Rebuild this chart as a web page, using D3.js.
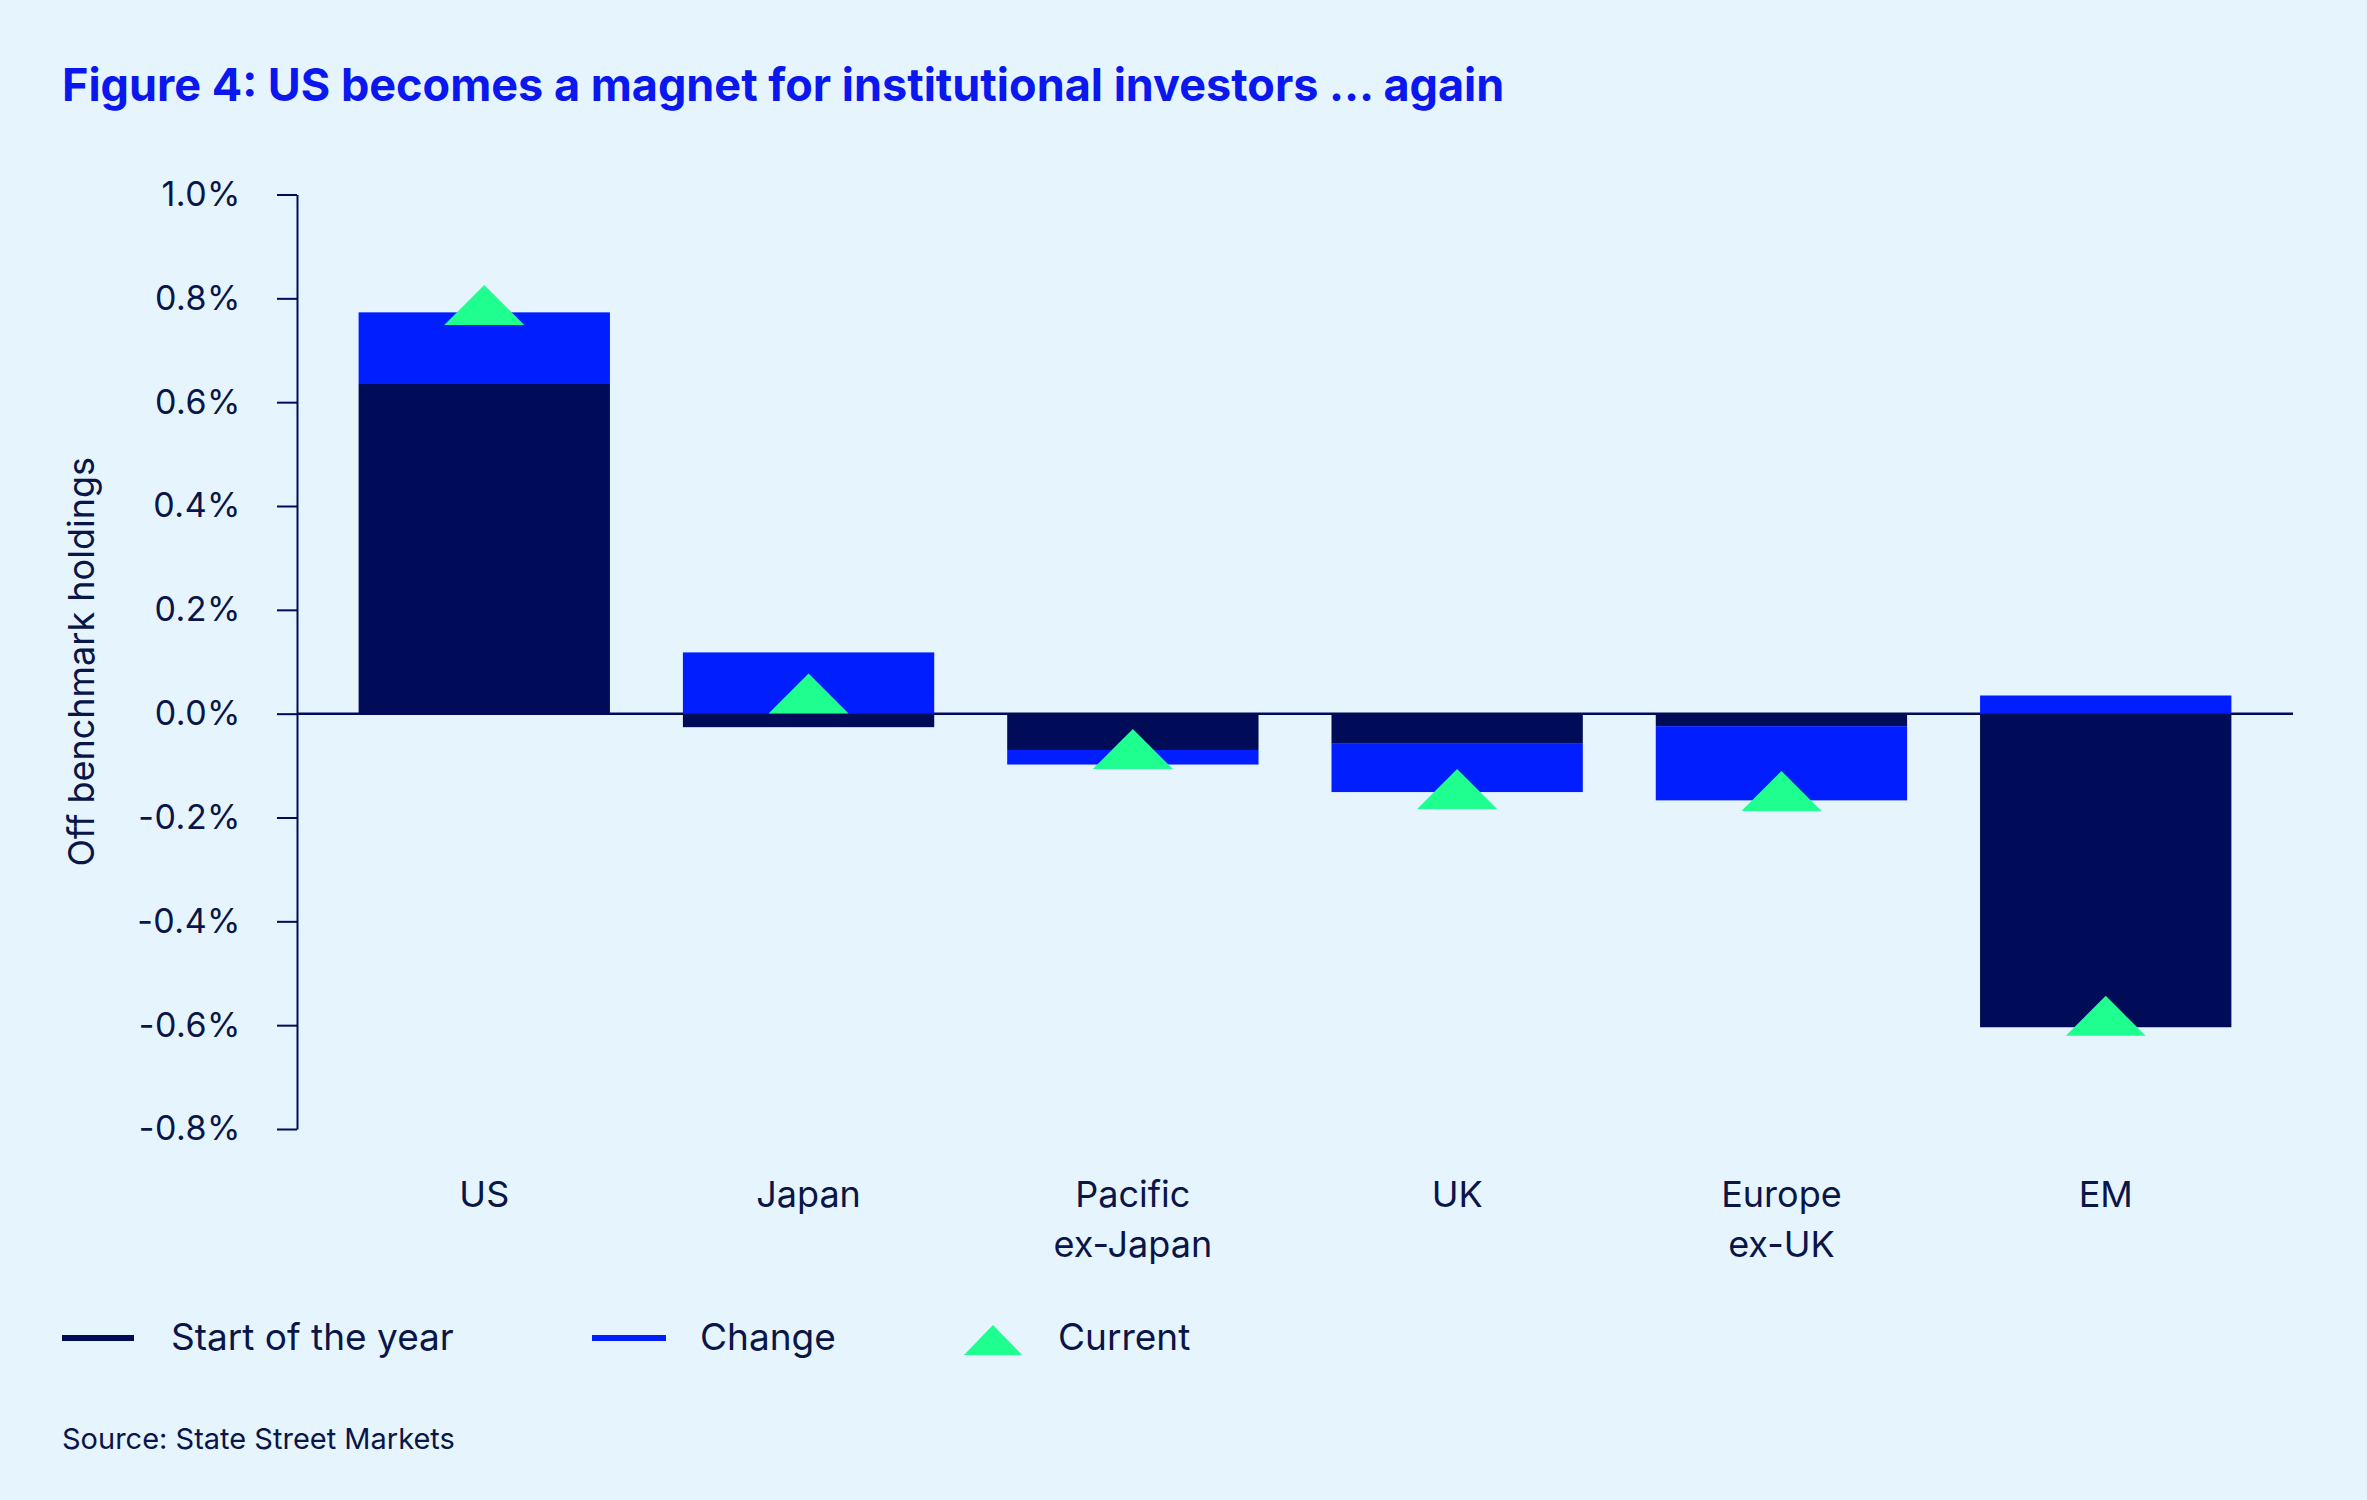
<!DOCTYPE html>
<html>
<head>
<meta charset="utf-8">
<script src="https://cdn.jsdelivr.net/npm/d3@7"></script>
<style>
  body { margin: 0; background: #e6f4fd; }
  svg { display: block; font-family: Inter, "Noto Sans", sans-serif; }
</style>
</head>
<body>
<script>
// chart data
var categories = ["US", "Japan", "Pacific\nex-Japan", "UK", "Europe\nex-UK", "EM"];
var startOfYear = [0.635, -0.026, -0.070, -0.058, -0.024, -0.604];
var change = [0.138, 0.118, -0.028, -0.093, -0.143, 0.035];
var current = [0.787, 0.039, -0.068, -0.145, -0.149, -0.582];
var yTicks = [1.0, 0.8, 0.6, 0.4, 0.2, 0.0, -0.2, -0.4, -0.6, -0.8];

var navy = "#000c57", blue = "#001eff", green = "#1fff8f", textCol = "#0a1548";

var svg = d3.select("body").append("svg")
    .attr("width", 2367)
    .attr("height", 1500);

svg.append("rect").attr("width", 2367).attr("height", 1500).attr("fill", "#e6f4fd");

var x = d3.scaleBand()
    .domain(categories)
    .range([297, 2293])
    .paddingInner(0.225)
    .paddingOuter(0.19);

var y = d3.scaleLinear()
    .domain([-0.8, 1.0])
    .range([1129, 194.5]);

// title
svg.append("text")
    .attr("x", 62)
    .attr("y", 101)
    .attr("fill", "#0a17ee")
    .style("font-size", "45px")
    .style("font-weight", 700)
    .text("Figure 4: US becomes a magnet for institutional investors \u2026 again");

// y axis
var yAxis = svg.append("g")
    .attr("transform", "translate(297,0)")
    .call(d3.axisLeft(y)
        .tickValues(yTicks)
        .tickSize(20)
        .tickSizeOuter(0)
        .tickPadding(36)
        .tickFormat(function(d) { return d.toFixed(1) + "%"; }));
yAxis.select(".domain").attr("stroke", navy).attr("stroke-width", 2);
yAxis.selectAll(".tick line").attr("stroke", navy).attr("stroke-width", 2);
yAxis.selectAll(".tick text")
    .attr("fill", textCol)
    .style("font-size", "34px")
    .style("letter-spacing", "0.5px")
    .style("font-family", "Inter, sans-serif");

svg.append("text")
    .attr("transform", "translate(94," + ((y(1.0) + y(-0.8)) / 2) + ") rotate(-90)")
    .attr("text-anchor", "middle")
    .attr("fill", textCol)
    .style("font-size", "36px")
    .text("Off benchmark holdings");

// stacked bars (positives and negatives stacked apart)
var table = categories.map(function(c, i) {
  return {cat: c, start: startOfYear[i], change: change[i], current: current[i]};
});
var series = d3.stack()
    .keys(["start", "change"])
    .offset(d3.stackOffsetDiverging)(table);
var colors = {start: navy, change: blue};

// zero line
svg.append("line")
    .attr("x1", 297).attr("x2", 2293)
    .attr("y1", y(0)).attr("y2", y(0))
    .attr("stroke", navy)
    .attr("stroke-width", 2.5);

svg.selectAll(".layer")
  .data(series)
  .enter().append("g")
    .attr("class", "layer")
    .attr("fill", function(s) { return colors[s.key]; })
  .selectAll("rect")
  .data(function(s) { return s; })
  .enter().append("rect")
    .attr("x", function(d) { return x(d.data.cat); })
    .attr("width", x.bandwidth())
    .attr("y", function(d) { return y(Math.max(d[0], d[1])); })
    .attr("height", function(d) { return Math.abs(y(d[0]) - y(d[1])); });

// current markers
var triW = 80, triH = 40;
var tri = "M0," + (-triH / 2) + "L" + (triW / 2) + "," + (triH / 2) + "L" + (-triW / 2) + "," + (triH / 2) + "Z";
svg.selectAll(".marker")
  .data(table)
  .enter().append("path")
    .attr("class", "marker")
    .attr("d", tri)
    .attr("fill", green)
    .attr("transform", function(d) {
      return "translate(" + (x(d.cat) + x.bandwidth() / 2) + "," + y(d.current) + ")";
    });

// category labels
var lab = svg.selectAll(".cat")
  .data(categories)
  .enter().append("text")
    .attr("class", "cat")
    .attr("text-anchor", "middle")
    .attr("fill", textCol)
    .style("font-size", "36px")
    .attr("transform", function(d) { return "translate(" + (x(d) + x.bandwidth() / 2) + ",1207)"; });
lab.selectAll("tspan")
  .data(function(d) { return d.split("\n"); })
  .enter().append("tspan")
    .attr("x", 0)
    .attr("dy", function(d, i) { return i ? 50 : 0; })
    .text(function(d) { return d; });

// legend
var legend = svg.append("g").attr("transform", "translate(0,1338)");
legend.append("line").attr("x1", 62).attr("x2", 134).attr("stroke", navy).attr("stroke-width", 6);
legend.append("line").attr("x1", 592).attr("x2", 666).attr("stroke", blue).attr("stroke-width", 6);
legend.append("path")
    .attr("d", "M0,-15L29,15L-29,15Z")
    .attr("fill", green)
    .attr("transform", "translate(993,2)");
[["Start of the year", 171], ["Change", 700], ["Current", 1058]].forEach(function(t) {
  legend.append("text")
      .attr("x", t[1])
      .attr("y", 12)
      .attr("fill", textCol)
      .style("font-size", "37px")
      .text(t[0]);
});

// source
svg.append("text")
    .attr("x", 62)
    .attr("y", 1449)
    .attr("fill", textCol)
    .style("font-size", "29px")
    .text("Source: State Street Markets");
</script>
</body>
</html>
